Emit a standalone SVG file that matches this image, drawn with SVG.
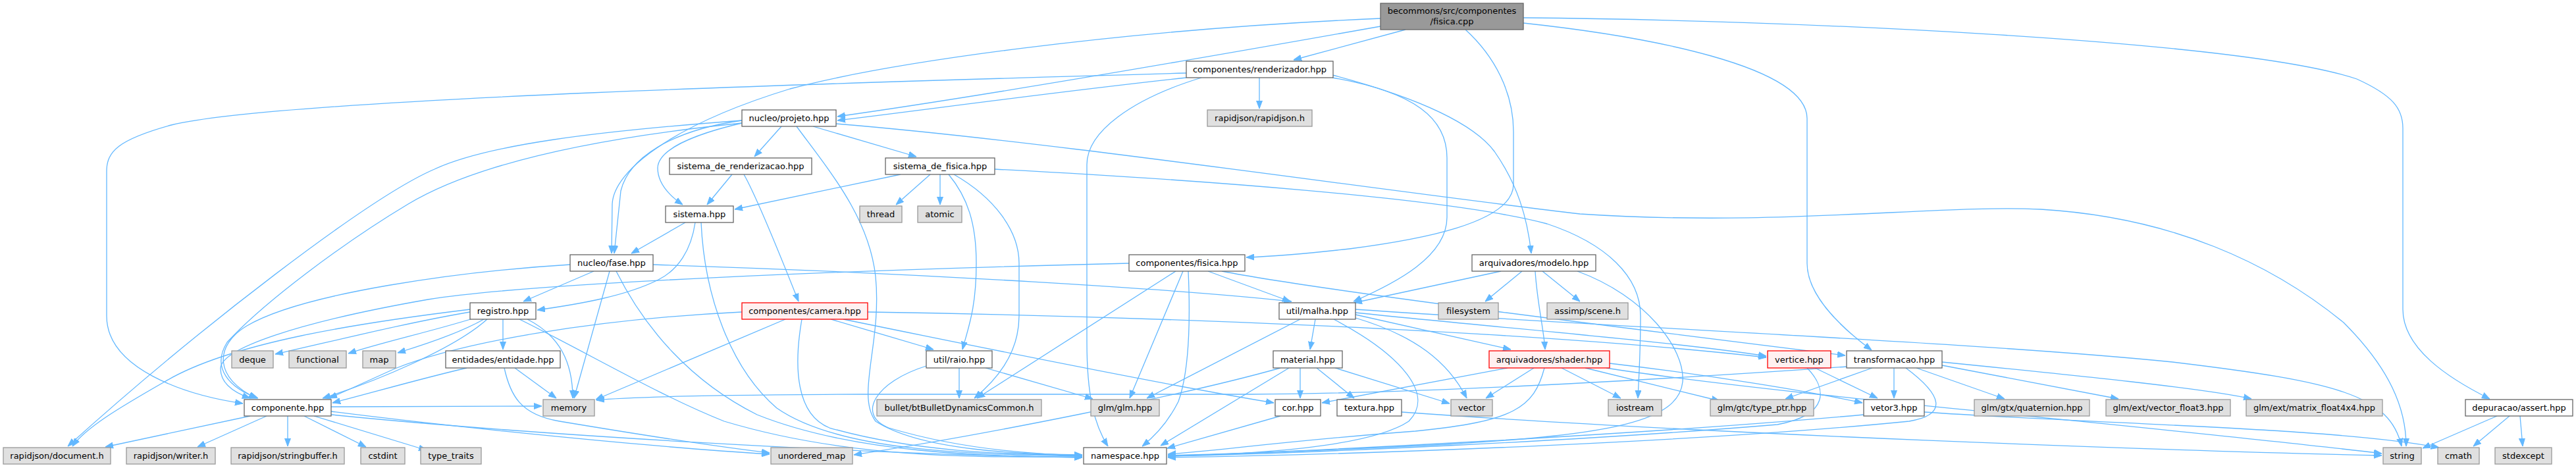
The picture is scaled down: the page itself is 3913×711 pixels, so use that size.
<svg xmlns="http://www.w3.org/2000/svg" width="3913" height="711" viewBox="0 0 3913 711">
<style>
.e{fill:none;stroke:#63b8ff;stroke-width:1.3;marker-end:url(#a)}
.n rect{fill:#fff;stroke:#666;stroke-width:1.3}
.x rect{fill:#e0e0e0;stroke:#999;stroke-width:1.3}
.r rect{fill:#fff0f0;stroke:#f00;stroke-width:1.3}
.root rect{fill:#999;stroke:#666;stroke-width:1.3}
text{font-family:"DejaVu Sans","Liberation Sans",sans-serif;font-size:13px;text-anchor:middle;fill:#000}
</style>
<defs>
<marker id="a" viewBox="0 0 12 10" refX="12" refY="5" markerWidth="12" markerHeight="10" markerUnits="userSpaceOnUse" orient="auto"><path d="M0,0.5 L12,5 L0,9.5 z" fill="#63b8ff" stroke="#63b8ff"/></marker>
</defs>
<g id="connectors">
<path class="e" d="M2135,45 L1965,91"/>
<path class="e" d="M2097,40 C1900,75 1500,145 1272,177"/>
<path class="e" d="M2097,28 C1700,45 1350,95 1200,135 C1020,190 932,260 930,310 L929,385"/>
<path class="e" d="M2226,45 C2270,85 2299,140 2299,200 L2299,280 C2299,340 2150,365 2050,378 C1960,388 1920,390 1893,391"/>
<path class="e" d="M2314,35 C2500,55 2745,100 2745,180 L2745,400 C2745,450 2800,500 2843,532"/>
<path class="e" d="M2314,27 C2700,30 3400,60 3580,120 C3635,145 3650,165 3650,195 L3650,470 C3650,530 3720,575 3782,606"/>
<path class="e" d="M1802,118 C1600,140 1420,165 1272,183"/>
<path class="e" d="M1802,111 C1300,125 420,150 260,190 C180,212 162,230 162,260 L162,480 C162,560 280,600 369,613"/>
<path class="e" d="M1913,118 L1913,165"/>
<path class="e" d="M1825,118 C1720,150 1651,200 1651,250 L1651,520 C1651,600 1662,645 1683,678"/>
<path class="e" d="M2024,118 C2150,140 2198,180 2198,240 L2198,330 C2198,390 2120,430 2056,458"/>
<path class="e" d="M2024,114 C2160,150 2240,190 2270,230 C2305,280 2320,330 2326,385"/>
<path class="e" d="M1187,192 L1146,238"/>
<path class="e" d="M1127,187 C1050,205 1000,228 999,255 C999,280 1018,298 1037,311"/>
<path class="e" d="M1235,192 L1392,238"/>
<path class="e" d="M1127,183 C1020,198 955,240 943,290 L933,385"/>
<path class="e" d="M1270,188 C1600,215 2100,290 2400,325 C2700,345 2950,310 3100,318 C3300,330 3450,400 3560,490 C3630,560 3655,620 3655,678"/>
<path class="e" d="M1127,183 C900,200 740,220 660,257 C560,300 300,500 103,678"/>
<path class="e" d="M1127,187 C900,210 720,250 620,310 C520,370 400,460 345,520 C320,560 350,590 392,605"/>
<path class="e" d="M1210,192 C1260,260 1320,330 1330,420 C1340,520 1300,600 1330,640 C1400,685 1550,690 1644,691"/>
<path class="e" d="M1112,265 L1074,311"/>
<path class="e" d="M1130,265 C1150,300 1190,400 1213,458"/>
<path class="e" d="M1368,265 L1116,318"/>
<path class="e" d="M1413,265 L1361,311"/>
<path class="e" d="M1428,265 L1428,311"/>
<path class="e" d="M1441,265 C1470,300 1483,340 1483,400 C1483,470 1470,500 1462,531"/>
<path class="e" d="M1449,265 C1510,300 1548,350 1548,400 L1548,480 C1548,540 1510,580 1480,605"/>
<path class="e" d="M1511,257 C1800,272 2200,300 2350,340 C2440,370 2492,420 2492,480 C2492,540 2489,580 2488,605"/>
<path class="e" d="M1041,338 L959,385"/>
<path class="e" d="M1056,338 C1050,380 1030,410 1000,425 C950,450 880,462 816,471"/>
<path class="e" d="M1065,338 C1070,450 1110,560 1180,620 C1280,690 1500,690 1644,693"/>
<path class="e" d="M902,412 L795,458"/>
<path class="e" d="M926,412 L872,605"/>
<path class="e" d="M936,412 C980,500 1050,580 1150,630 C1300,690 1500,693 1644,695"/>
<path class="e" d="M992,402 C1400,415 1800,440 1962,458"/>
<path class="e" d="M866,402 C700,412 460,445 375,495 C325,525 325,575 390,605"/>
<path class="e" d="M764,485 L764,531"/>
<path class="e" d="M801,485 C850,510 870,550 870,605"/>
<path class="e" d="M789,485 C900,540 1000,600 1100,640 C1300,700 1500,694 1644,694"/>
<path class="e" d="M714,474 C620,490 520,515 418,538"/>
<path class="e" d="M718,484 C650,505 580,520 529,537"/>
<path class="e" d="M735,485 C700,505 650,522 604,536"/>
<path class="e" d="M714,470 C550,490 350,520 250,580 C180,620 130,650 110,678"/>
<path class="e" d="M740,485 C690,530 570,580 490,605"/>
<path class="e" d="M782,559 L845,605"/>
<path class="e" d="M709,559 C640,575 560,598 505,612"/>
<path class="e" d="M766,559 C775,600 790,630 850,640 C1000,665 1100,680 1169,688"/>
<path class="e" d="M1193,485 L905,607"/>
<path class="e" d="M1127,474 C900,485 700,520 600,560 C560,578 530,592 500,605"/>
<path class="e" d="M1218,485 C1205,560 1210,630 1260,650 C1400,690 1550,690 1644,692"/>
<path class="e" d="M1262,485 L1418,531"/>
<path class="e" d="M1281,485 C1500,530 1800,590 1935,612"/>
<path class="e" d="M1318,474 C1700,480 2300,500 2683,543"/>
<path class="e" d="M1457,559 L1457,605"/>
<path class="e" d="M1497,559 L1660,606"/>
<path class="e" d="M1407,556 C1330,580 1300,630 1350,650 C1450,680 1560,690 1644,692"/>
<path class="e" d="M1786,412 L1484,605"/>
<path class="e" d="M1797,412 L1716,605"/>
<path class="e" d="M1805,412 C1808,480 1808,560 1790,610 C1770,650 1745,670 1735,678"/>
<path class="e" d="M1835,412 L1960,458"/>
<path class="e" d="M1856,412 C2000,440 2400,490 2803,540"/>
<path class="e" d="M1715,400 C1300,410 800,430 650,455 C450,490 335,530 335,560 C335,585 360,598 380,605"/>
<path class="e" d="M2280,412 L2057,460"/>
<path class="e" d="M2312,412 L2256,458"/>
<path class="e" d="M2343,412 L2400,458"/>
<path class="e" d="M2332,412 C2335,460 2345,500 2347,531"/>
<path class="e" d="M2396,412 C2500,450 2560,530 2556,580 C2550,640 2450,660 2200,675 C2000,685 1850,690 1774,692"/>
<path class="e" d="M1998,485 L1990,531"/>
<path class="e" d="M1975,485 L1742,605"/>
<path class="e" d="M2026,485 C2130,540 2180,600 2140,640 C2080,680 1900,690 1774,693"/>
<path class="e" d="M2059,483 C2150,510 2200,550 2228,605"/>
<path class="e" d="M2059,478 L2295,531"/>
<path class="e" d="M2059,475 C2300,500 2550,520 2683,541"/>
<path class="e" d="M2059,470 C2500,500 3000,520 3300,550 C3550,580 3630,600 3648,678"/>
<path class="e" d="M1975,559 L1975,605"/>
<path class="e" d="M2000,559 L2057,605"/>
<path class="e" d="M2028,559 L2202,613"/>
<path class="e" d="M1958,559 L1763,677"/>
<path class="e" d="M1945,559 C1800,600 1500,660 1297,691"/>
<path class="e" d="M2290,559 L2008,612"/>
<path class="e" d="M2330,559 L2257,605"/>
<path class="e" d="M2372,559 L2462,605"/>
<path class="e" d="M2408,559 L2612,609"/>
<path class="e" d="M2440,559 C2700,600 3300,650 3618,689"/>
<path class="e" d="M2346,559 C2330,620 2300,640 2150,655 C1950,670 1850,685 1774,690"/>
<path class="e" d="M2445,552 C2600,570 2750,595 2829,612"/>
<path class="e" d="M2757,559 L2852,605"/>
<path class="e" d="M2745,559 C2775,590 2780,630 2700,645 C2400,670 2000,688 1774,693"/>
<path class="e" d="M2844,559 L2712,606"/>
<path class="e" d="M2877,559 L2877,605"/>
<path class="e" d="M2911,559 L3045,606"/>
<path class="e" d="M2950,555 L3218,606"/>
<path class="e" d="M2950,550 C3150,570 3350,590 3420,606"/>
<path class="e" d="M2895,559 C2950,600 2960,630 2900,640 C2600,670 2100,690 1774,695"/>
<path class="e" d="M2805,557 C2400,585 2100,598 1900,599 L1310,599 C1100,600 950,603 906,608"/>
<path class="e" d="M2923,626 C3200,645 3550,650 3705,680"/>
<path class="e" d="M2831,630 C2500,660 2000,685 1774,693"/>
<path class="e" d="M1945,632 L1773,681"/>
<path class="e" d="M2129,626 C2600,660 3300,685 3618,692"/>
<path class="e" d="M3793,632 L3680,681"/>
<path class="e" d="M3812,632 L3757,678"/>
<path class="e" d="M3828,632 L3832,678"/>
<path class="e" d="M380,632 L160,679"/>
<path class="e" d="M405,632 L300,679"/>
<path class="e" d="M437,632 L437,678"/>
<path class="e" d="M462,632 L556,679"/>
<path class="e" d="M477,632 L648,684"/>
<path class="e" d="M503,625 C700,650 1000,680 1169,690"/>
<path class="e" d="M503,630 C800,660 1300,690 1644,695"/>
<path class="e" d="M503,618 L823,617"/>
</g>
<g id="root" class="root"><rect x="2097" y="5" width="217" height="40"/><text x="2205.5" y="21">becommons/src/componentes</text><text x="2205.5" y="37">/fisica.cpp</text></g>
<g id="renderizador" class="n"><rect x="1802" y="93" width="223" height="25"/><text x="1913.5" y="110">componentes/renderizador.hpp</text></g>
<g id="rapidjson" class="x"><rect x="1834" y="167" width="159" height="25"/><text x="1913.5" y="184">rapidjson/rapidjson.h</text></g>
<g id="projeto" class="n"><rect x="1127" y="167" width="143" height="25"/><text x="1198.5" y="184">nucleo/projeto.hpp</text></g>
<g id="sdr" class="n"><rect x="1017" y="240" width="216" height="25"/><text x="1125" y="257">sistema_de_renderizacao.hpp</text></g>
<g id="sdf" class="n"><rect x="1345" y="240" width="166" height="25"/><text x="1428" y="257">sistema_de_fisica.hpp</text></g>
<g id="sistema" class="n"><rect x="1011" y="313" width="103" height="25"/><text x="1062.5" y="330">sistema.hpp</text></g>
<g id="thread" class="x"><rect x="1306" y="313" width="64" height="25"/><text x="1338" y="330">thread</text></g>
<g id="atomic" class="x"><rect x="1394" y="313" width="67" height="25"/><text x="1427.5" y="330">atomic</text></g>
<g id="fase" class="n"><rect x="866" y="387" width="126" height="25"/><text x="929" y="404">nucleo/fase.hpp</text></g>
<g id="fisicahpp" class="n"><rect x="1715" y="387" width="176" height="25"/><text x="1803" y="404">componentes/fisica.hpp</text></g>
<g id="modelo" class="n"><rect x="2236" y="387" width="188" height="25"/><text x="2330" y="404">arquivadores/modelo.hpp</text></g>
<g id="registro" class="n"><rect x="714" y="460" width="100" height="25"/><text x="764" y="477">registro.hpp</text></g>
<g id="camera" class="r"><rect x="1127" y="460" width="191" height="25"/><text x="1222.5" y="477">componentes/camera.hpp</text></g>
<g id="malha" class="n"><rect x="1943" y="460" width="116" height="25"/><text x="2001" y="477">util/malha.hpp</text></g>
<g id="filesystem" class="x"><rect x="2185" y="460" width="91" height="25"/><text x="2230.5" y="477">filesystem</text></g>
<g id="assimp" class="x"><rect x="2350" y="460" width="123" height="25"/><text x="2411.5" y="477">assimp/scene.h</text></g>
<g id="deque" class="x"><rect x="352" y="533" width="63" height="26"/><text x="383.5" y="550.5">deque</text></g>
<g id="functional" class="x"><rect x="439" y="533" width="87" height="26"/><text x="482.5" y="550.5">functional</text></g>
<g id="map" class="x"><rect x="551" y="533" width="50" height="26"/><text x="576" y="550.5">map</text></g>
<g id="entidade" class="n"><rect x="677" y="533" width="174" height="26"/><text x="764" y="550.5">entidades/entidade.hpp</text></g>
<g id="raio" class="n"><rect x="1407" y="533" width="100" height="26"/><text x="1457" y="550.5">util/raio.hpp</text></g>
<g id="material" class="n"><rect x="1934" y="533" width="105" height="26"/><text x="1986.5" y="550.5">material.hpp</text></g>
<g id="shader" class="r"><rect x="2262" y="533" width="183" height="26"/><text x="2353.5" y="550.5">arquivadores/shader.hpp</text></g>
<g id="vertice" class="r"><rect x="2685" y="533" width="96" height="26"/><text x="2733" y="550.5">vertice.hpp</text></g>
<g id="transformacao" class="n"><rect x="2805" y="533" width="145" height="26"/><text x="2877.5" y="550.5">transformacao.hpp</text></g>
<g id="componente" class="n"><rect x="371" y="607" width="132" height="25"/><text x="437" y="624">componente.hpp</text></g>
<g id="memory" class="x"><rect x="825" y="607" width="78" height="25"/><text x="864" y="624">memory</text></g>
<g id="bullet" class="x"><rect x="1332" y="607" width="250" height="25"/><text x="1457" y="624">bullet/btBulletDynamicsCommon.h</text></g>
<g id="glm" class="x"><rect x="1657" y="607" width="104" height="25"/><text x="1709" y="624">glm/glm.hpp</text></g>
<g id="cor" class="n"><rect x="1937" y="607" width="69" height="25"/><text x="1971.5" y="624">cor.hpp</text></g>
<g id="textura" class="n"><rect x="2031" y="607" width="98" height="25"/><text x="2080" y="624">textura.hpp</text></g>
<g id="vector" class="x"><rect x="2204" y="607" width="63" height="25"/><text x="2235.5" y="624">vector</text></g>
<g id="iostream" class="x"><rect x="2443" y="607" width="81" height="25"/><text x="2483.5" y="624">iostream</text></g>
<g id="typeptr" class="x"><rect x="2598" y="607" width="157" height="25"/><text x="2676.5" y="624">glm/gtc/type_ptr.hpp</text></g>
<g id="vetor3" class="n"><rect x="2831" y="607" width="92" height="25"/><text x="2877" y="624">vetor3.hpp</text></g>
<g id="quaternion" class="x"><rect x="2999" y="607" width="175" height="25"/><text x="3086.5" y="624">glm/gtx/quaternion.hpp</text></g>
<g id="vf3" class="x"><rect x="3199" y="607" width="189" height="25"/><text x="3293.5" y="624">glm/ext/vector_float3.hpp</text></g>
<g id="m44" class="x"><rect x="3412" y="607" width="207" height="25"/><text x="3515.5" y="624">glm/ext/matrix_float4x4.hpp</text></g>
<g id="assert" class="n"><rect x="3745" y="607" width="163" height="25"/><text x="3826.5" y="624">depuracao/assert.hpp</text></g>
<g id="document" class="x"><rect x="5" y="680" width="163" height="25"/><text x="86.5" y="697">rapidjson/document.h</text></g>
<g id="writer" class="x"><rect x="192" y="680" width="135" height="25"/><text x="259.5" y="697">rapidjson/writer.h</text></g>
<g id="stringbuffer" class="x"><rect x="351" y="680" width="172" height="25"/><text x="437" y="697">rapidjson/stringbuffer.h</text></g>
<g id="cstdint" class="x"><rect x="548" y="680" width="67" height="25"/><text x="581.5" y="697">cstdint</text></g>
<g id="type_traits" class="x"><rect x="639" y="680" width="92" height="25"/><text x="685" y="697">type_traits</text></g>
<g id="unordered_map" class="x"><rect x="1171" y="680" width="124" height="25"/><text x="1233" y="697">unordered_map</text></g>
<g id="namespace" class="n"><rect x="1646" y="680" width="126" height="25"/><text x="1709" y="697">namespace.hpp</text></g>
<g id="string" class="x"><rect x="3620" y="680" width="58" height="25"/><text x="3649" y="697">string</text></g>
<g id="cmath" class="x"><rect x="3703" y="680" width="63" height="25"/><text x="3734.5" y="697">cmath</text></g>
<g id="stdexcept" class="x"><rect x="3790" y="680" width="86" height="25"/><text x="3833" y="697">stdexcept</text></g>
</svg>
